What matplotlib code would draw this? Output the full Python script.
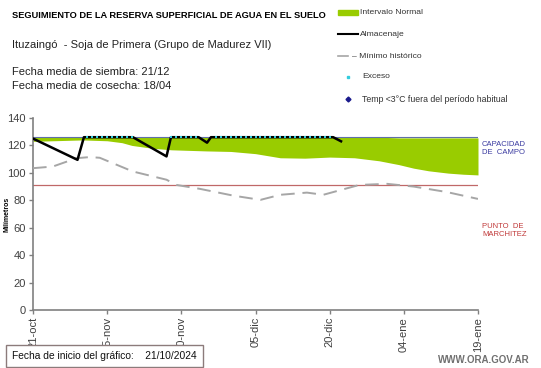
import matplotlib
matplotlib.use("Agg")
import matplotlib.pyplot as plt
from matplotlib.lines import Line2D
import matplotlib.patches as mpatches

plt.rcParams['font.family'] = ['Liberation Sans', 'DejaVu Sans']

# dias desde el 21/10/2024
fechas_ticks = [0, 15, 30, 45, 60, 75, 90]
etiquetas_ticks = ["21-oct", "05-nov", "20-nov", "05-dic", "20-dic", "04-ene", "19-ene"]

# intervalo normal (banda verde)
banda_dias = [0, 5, 10, 15, 18, 20, 24, 28, 35, 40, 45, 50, 55, 60, 65, 70, 74, 77, 80, 84, 87, 90]
banda_sup = [126, 126, 126, 126, 126, 126, 126, 126, 126, 126, 126, 126, 126, 126, 126, 126, 125.5, 125.5, 125.5, 125.5, 125.5, 125.5]
banda_inf = [123, 123.5, 124, 123.4, 122, 120, 118, 116.8, 116, 115.6, 114, 111, 110.7, 111.5, 111, 108.8, 106, 103.4, 101.5, 99.8, 99, 98.5]

# almacenaje
alm_dias = [0, 9, 10.3, 20.2, 27, 27.9, 33.5, 35.2, 36, 60.7, 62.3]
alm_val = [125, 109.5, 126, 126, 112, 126, 126, 122, 126, 126, 123]

# minimo historico
min_dias = [0, 4, 8.8, 11.5, 13.5, 20.2, 27, 29, 33.8, 40.5, 46, 50, 55.4, 58.7, 66, 71.6, 77, 83.7, 90]
min_val = [103.4, 104.6, 110.7, 111.5, 111, 101, 95, 91.2, 88.3, 83.4, 80.3, 84, 85.6, 84, 91.2, 92, 90, 86, 81]

# dias con exceso (almacenaje en capacidad de campo)
exceso_tramos = [(11, 20), (28, 33), (37, 60)]
capacidad = 126
marchitez = 91

fig = plt.figure(figsize=(5.41, 3.68), dpi=100)
ax = fig.add_axes([33/541, 58/368, 445/541, 192/368])

ax.fill_between(banda_dias, banda_inf, banda_sup, color='#99cc00', lw=0, zorder=1)
ax.axhline(capacidad, color='#6070a8', lw=0.8, zorder=2)
ax.axhline(marchitez, color='#c06868', lw=0.9, zorder=2)
ax.plot(min_dias, min_val, color='#a6a6a6', lw=1.4, dashes=(7, 4), zorder=3)
ax.plot(alm_dias, alm_val, color='black', lw=1.8, zorder=4)

exc_x = []
for a, b in exceso_tramos:
    exc_x += list(range(a, b + 1))
ax.scatter(exc_x, [capacidad] * len(exc_x), s=3, marker='s', color='#33ccdd', lw=0, zorder=5)

ax.set_xlim(0, 90)
ax.set_ylim(0, 140)
ax.set_yticks(range(0, 141, 20))
ax.set_xticks(fechas_ticks)
ax.set_xticklabels(etiquetas_ticks, rotation=90)
for s in ['top', 'right']:
    ax.spines[s].set_visible(False)
for s in ['left', 'bottom']:
    ax.spines[s].set_color('#808080')
    ax.spines[s].set_linewidth(1.2)
ax.tick_params(labelsize=8, length=3, width=1, pad=2, colors='#808080', labelcolor='#404040')
fig.text(7/541, 1 - 214/368, "Milímetros", fontsize=5, fontweight='bold', rotation=90,
         ha='center', va='center')

# textos
fig.text(12/541, 1 - 15/368, "SEGUIMIENTO DE LA RESERVA SUPERFICIAL DE AGUA EN EL SUELO",
         fontsize=6.65, fontweight='bold', va='center')
fig.text(12/541, 1 - 45/368, "Ituzaingó  - Soja de Primera (Grupo de Madurez VII)",
         fontsize=8, va='center', color='#222222')
fig.text(12/541, 1 - 72/368, "Fecha media de siembra: 21/12", fontsize=8, va='center', color='#222222')
fig.text(12/541, 1 - 86/368, "Fecha media de cosecha: 18/04", fontsize=8, va='center', color='#222222')

# leyenda manual
leg_col = '#333333'
fig.patches.append(mpatches.Rectangle((338/541, 1 - 15/368), 20/541, 5/368,
                                      transform=fig.transFigure, color='#99cc00'))
fig.text(360/541, 1 - 12/368, "Intervalo Normal", fontsize=6.1, va='center', color=leg_col)
fig.lines.append(Line2D([338/541, 358/541], [1 - 34/368, 1 - 34/368], transform=fig.transFigure,
                        color='black', lw=1.5))
fig.text(360/541, 1 - 34/368, "Almacenaje", fontsize=6.1, va='center', color=leg_col)
fig.lines.append(Line2D([338/541, 348/541], [1 - 56/368, 1 - 56/368], transform=fig.transFigure,
                        color='#a6a6a6', lw=1.2))
fig.text(352/541, 1 - 56/368, "– Mínimo histórico", fontsize=6.1, va='center', color=leg_col)
fig.lines.append(Line2D([348/541], [1 - 77/368], transform=fig.transFigure, marker='s',
                        markersize=2, color='#33ccdd', lw=0))
fig.text(362/541, 1 - 77/368, "Exceso", fontsize=6.1, va='center', color=leg_col)
fig.lines.append(Line2D([348/541], [1 - 99/368], transform=fig.transFigure, marker='D',
                        markersize=2.5, color='#1a1a8c', lw=0))
fig.text(362/541, 1 - 99/368, "Temp <3°C fuera del período habitual", fontsize=6.3, va='center',
         color=leg_col)

# etiquetas de referencia a la derecha
fig.text(482/541, 1 - 148/368, "CAPACIDAD\nDE  CAMPO", fontsize=5.5, va='center', color='#3a3aa0',
         linespacing=1.2)
fig.text(482/541, 1 - 230/368, "PUNTO  DE\nMARCHITEZ", fontsize=5.5, va='center', color='#c03838',
         linespacing=1.2)

fig.text(12/541, 1 - 356/368, "Fecha de inicio del gráfico:    21/10/2024", fontsize=7.4,
         va='center', color='#111111',
         bbox=dict(boxstyle='square,pad=0.6', facecolor='white', edgecolor='#8c7b7b', lw=1))
fig.text(530/541, 1 - 360/368, "WWW.ORA.GOV.AR", fontsize=7, ha='right', va='center',
         color='#707070', fontweight='bold')

fig.savefig("out.png", dpi=100)
